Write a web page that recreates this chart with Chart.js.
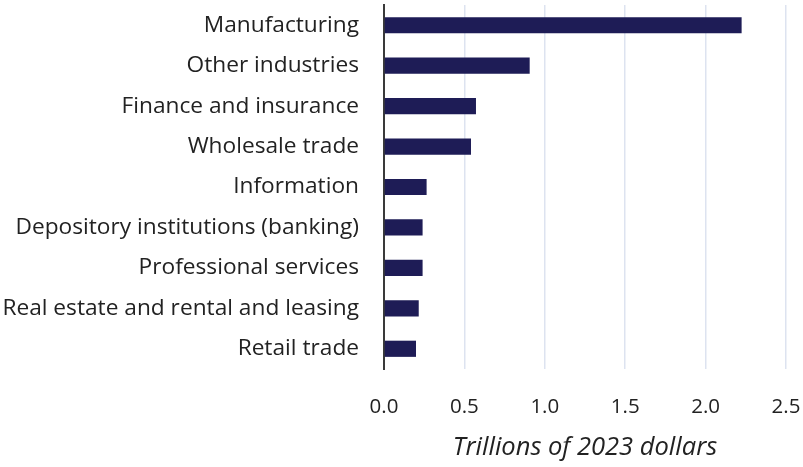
<!DOCTYPE html>
<html>
<head>
<meta charset="utf-8">
<script src="https://cdn.jsdelivr.net/npm/chart.js@4"></script>
<style>
html,body{margin:0;padding:0;background:#fff;}
#wrap{width:803px;height:467px;position:relative;}
</style>
</head>
<body>
<div id="wrap"><canvas id="c"></canvas></div>
<script>
const categories = ["Manufacturing","Other industries","Finance and insurance","Wholesale trade","Information","Depository institutions (banking)","Professional services","Real estate and rental and leasing","Retail trade"];
const values = [2.224, 0.906, 0.572, 0.541, 0.265, 0.240, 0.240, 0.216, 0.199];
const xTicks = [0, 0.5, 1.0, 1.5, 2.0, 2.5];
const axisTitle = "Trillions of 2023 dollars";

const FONT = "'Open Sans', 'Noto Sans', sans-serif";
new Chart(document.getElementById('c'), {
  type: 'bar',
  data: {
    labels: categories,
    datasets: [{
      data: values,
      backgroundColor: '#1e1c56',
      borderWidth: 0,
      barPercentage: 0.4,
      categoryPercentage: 1.0
    }]
  },
  options: {
    indexAxis: 'y',
    responsive: true,
    maintainAspectRatio: false,
    animation: false,
    layout: { padding: { top: 5, left: 0, right: 0, bottom: 4 } },
    plugins: { legend: { display: false }, tooltip: { enabled: false } },
    scales: {
      x: {
        min: 0, max: 2.5,
        afterBuildTicks: (s) => { s.ticks = xTicks.map(v => ({ value: v })); },
        afterFit: (s) => { s.height = 94; s.paddingLeft = 0; s.paddingRight = 17; },
        ticks: {
          color: '#222',
          font: { family: FONT, size: 20.5 },
          padding: 26,
          maxRotation: 0,
          callback: (v) => Number(v).toFixed(1)
        },
        grid: { color: '#dde3f0', lineWidth: 1.5, drawTicks: false },
        border: { display: false },
        title: {
          display: true,
          text: axisTitle,
          color: '#222',
          font: { family: FONT, size: 25.5, style: 'italic' },
          padding: { top: 0, bottom: 0 }
        }
      },
      y: {
        afterFit: (s) => { s.paddingTop = 0; s.paddingBottom = 0; s.width = 384; },
        ticks: {
          color: '#222',
          font: { family: FONT, size: 22.7 },
          padding: 25
        },
        grid: { display: false, drawTicks: false },
        border: { display: true, color: '#3a3a3a', width: 2 }
      }
    }
  }
});
</script>
</body>
</html>
